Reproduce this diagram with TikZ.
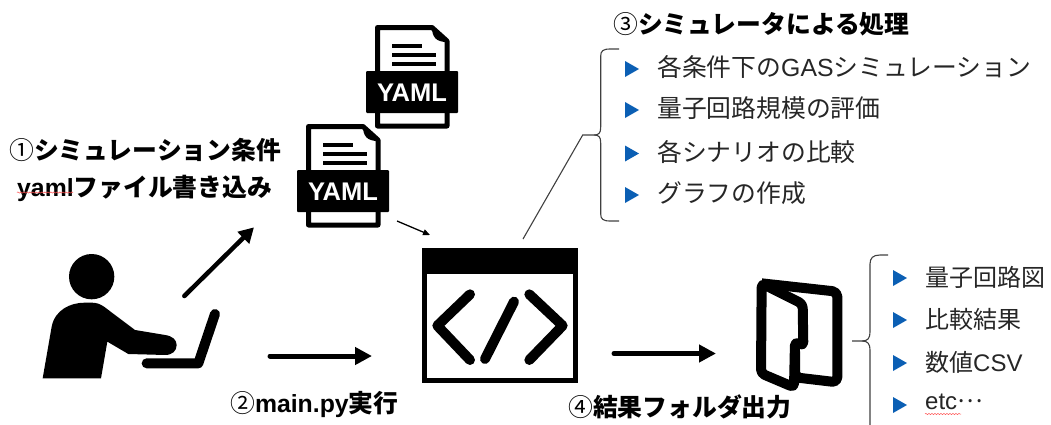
\documentclass[tikz,border=0pt]{standalone}
\usepackage{fontspec}
\usetikzlibrary{arrows.meta,decorations.pathmorphing}
\newfontfamily\cjk{Noto Sans CJK JP}
\newfontfamily\latinfont{Liberation Sans}
\definecolor{bulletblue}{HTML}{0B5FB4}
\definecolor{bodytext}{HTML}{262626}
\definecolor{bracketgray}{HTML}{404040}
\newcommand{\lat}[1]{{\latinfont #1}}
\newcommand{\thin}[1]{{\mdseries #1}}
\tikzset{
  x=1pt,y=-1pt,
  title/.style={anchor=west,inner sep=0pt,font=\cjk\fontsize{24.8}{25}\selectfont\bfseries,text=black},
  item/.style={anchor=west,inner sep=0pt,font=\cjk\fontsize{24.8}{25}\selectfont,text=bodytext},
  itemsmall/.style={anchor=west,inner sep=0pt,font=\cjk\fontsize{24}{25}\selectfont,text=bodytext},
  bullet/.style={fill=bulletblue,draw=none},
  bigarrow/.style={line width=5pt,line cap=round,-{Triangle[length=17pt,width=17pt]}},
  bracket/.style={draw=bracketgray,line width=1.1pt},
  squiggle/.style={draw=red!70!white,line width=.5pt,decorate,decoration={snake,segment length=3pt,amplitude=.6pt}},
}
\newcommand{\yamlicon}[2]{%
  \begin{scope}[shift={(#1,#2)}]
    \draw[line width=5pt,line join=round,fill=white] (11.5,2.5) -- (66,2.5) -- (81,16) -- (81,101) -- (11.5,101) -- cycle;
    \fill (66,2) .. controls (66,12) and (70,17) .. (81,17) -- (81,14) -- (68,2) -- cycle;
    \draw[line width=3.5pt] (26,21) -- (56,21) (26,30) -- (70,30) (26,39) -- (70,39);
    \fill[rounded corners=1pt] (0,46) rectangle (92,88);
    \node[inner sep=0pt,text=white,font=\latinfont\fontsize{25.5}{26}\selectfont\bfseries] at (46,67.5) {YAML};
  \end{scope}}
\newcommand{\tribullet}[2]{\fill[bullet] (#1,#2-8) -- (#1+14,#2) -- (#1,#2+8) -- cycle;}
\begin{document}
\begin{tikzpicture}
\useasboundingbox (0,0) rectangle (1051,424);
\clip (0,0) rectangle (1051,424);

% YAML files
\yamlicon{366}{25}
\yamlicon{297}{124}

% person
\begin{scope}[shift={(30,220)},x=.3333pt,y=-.3333pt]
  \fill (185,170) circle[radius=68];
  \fill (38,475) -- (65,320) .. controls (75,270) and (120,248) .. (165,248)
        -- (185,248) .. controls (200,248) and (210,252) .. (222,260) -- (315,330) -- (405,345)
        .. controls (428,348) and (440,360) .. (440,375) .. controls (440,392) and (428,405) .. (405,405)
        -- (295,402) -- (232,365) -- (213,475) -- cycle;
  \draw[line width=10pt,line cap=round,line join=round] (350,430) -- (505,430) -- (555,282);
  \coordinate (upA) at (463,228);
  \coordinate (upB) at (672,22);
\end{scope}
\draw[line width=4.5pt,line cap=round,-{Triangle[length=15pt,width=16pt]}] (upA) -- (upB);

% code window
\coordinate (winNW) at (422,248);
\fill (winNW) rectangle (578,274);
\draw[line width=5pt] (424.5,250.5) rectangle (575.5,380.5);
\begin{scope}[shift={(410,235)},x=.3333pt,y=-.3333pt]
  \draw[line width=10pt,line cap=round,line join=round] (180,178) -- (82,272) -- (180,375);
  \draw[line width=10pt,line cap=round,line join=round] (358,178) -- (458,272) -- (358,375);
  \draw[line width=10pt,line cap=round] (312,200) -- (225,372);
\end{scope}

% folder
\begin{scope}[shift={(740,250)},x=.3333pt,y=-.3333pt]
  \draw[line width=10pt,line join=round,fill=white,rounded corners=5pt]
    (65,100) -- (292,125) -- (292,397) -- (165,382) -- (165,290) -- (65,100);
  \draw[line width=10pt,line join=round,fill=white,rounded corners=4pt]
    (65,100) -- (188,162) -- (190,288) -- (165,275) -- (162,412) -- (63,370) -- cycle;
\end{scope}

% small arrow
\coordinate (smA) at (397,221);
\coordinate (smB) at (430,235);
\draw[line width=1.3pt,-{Triangle[length=7pt,width=6pt]}] (smA) -- (smB);

% big arrows
\coordinate (runA) at (270,356);
\coordinate (runB) at (372,356);
\coordinate (outA) at (614,353.5);
\coordinate (outB) at (716,353.5);
\draw[bigarrow] (runA) -- (runB);
\draw[bigarrow] (outA) -- (outB);

% upper bracket and leader
\coordinate (brTip) at (582.7,135);
\coordinate (winTop) at (523,239);
\draw[bracket] (619,49) -- (610,49) .. controls (603,49) and (600.7,51) .. (600.7,56)
  -- (600.7,127) .. controls (600.7,133) and (599,135) .. (594,135) -- (brTip) -- (winTop);
\draw[bracket] (594,135) .. controls (599,135) and (600.7,137) .. (600.7,143)
  -- (600.7,214) .. controls (600.7,219) and (603,221) .. (610,221) -- (619,221);

% lower bracket
\coordinate (br2Tip) at (852,341);
\draw[bracket] (888,255) -- (880,255) .. controls (873,255) and (870,258) .. (870,264)
  -- (870,332) .. controls (870,338) and (868,341) .. (862,341) -- (br2Tip);
\draw[bracket] (862,341) .. controls (868,341) and (870,344) .. (870,350) -- (870,430);

% bullets
\tribullet{625}{69}
\tribullet{625}{110}
\tribullet{625}{153.5}
\tribullet{625}{195}
\tribullet{893}{278}
\tribullet{893}{320}
\tribullet{893}{363}
\tribullet{893}{405}

% titles
\node[title] (t1a) at (9,150) {\thin{①}シミュレーション条件};
\node[title] (t1b) at (17,188) {\lat{yaml}ファイル書き込み};
\node[title] (t2) at (230,404) {\thin{②}\lat{main.py}実行};
\node[title] (t3) at (613,24) {\thin{③}シミュレータによる処理};
\node[title] (t4) at (568,407) {\thin{④}結果フォルダ出力};

% items
\node[item] (a1) at (657,67) {各条件下の\lat{GAS}シミュレーション};
\node[item] (a2) at (657,108) {量子回路規模の評価};
\node[item] (a3) at (657,152) {各シナリオの比較};
\node[item] (a4) at (657,193) {グラフの作成};
\node[itemsmall] (b1) at (925,277) {量子回路図};
\node[itemsmall] (b2) at (925,319) {比較結果};
\node[itemsmall] (b3) at (925,362) {数値\lat{CSV}};
\node[itemsmall] (b4) at (925,402) {\lat{etc}\raisebox{.3em}{…}};

% spell-check underlines
\draw[squiggle] (17,192.5) -- (73,192.5);
\draw[squiggle] (925,414) -- (961,414);
\end{tikzpicture}
\end{document}
